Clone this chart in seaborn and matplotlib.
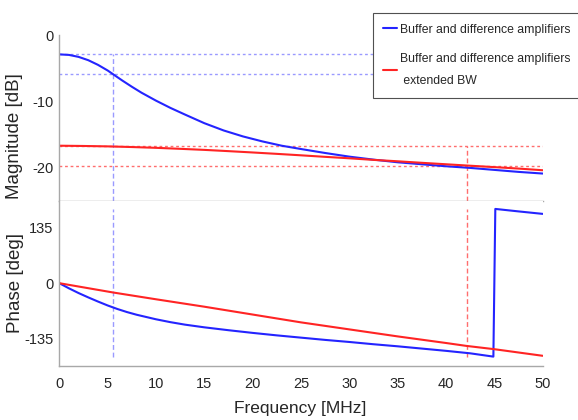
import numpy as np
import seaborn as sns
import matplotlib.pyplot as plt

# frequency grid (MHz) and values
freq_mag_buffer = [0, 1, 2, 3, 4, 5, 5.6, 6.5, 7.5, 8.5, 10, 11.5, 13, 15, 17, 19, 21,
                   23, 25, 27.5, 30, 32.5, 35, 37.5, 40, 42.5, 45, 47.5, 50]
mag_buffer = [-2.92, -3.0, -3.3, -3.8, -4.5, -5.35, -5.95, -6.85, -7.8, -8.7, -9.9,
              -11.0, -12.0, -13.3, -14.4, -15.3, -16.05, -16.7, -17.2, -17.8, -18.35,
              -18.8, -19.2, -19.5, -19.8, -20.05, -20.35, -20.65, -20.9]
freq_mag_ext = [0, 2.5, 5, 7.5, 10, 12.5, 15, 17.5, 20, 22.5, 25, 27.5, 30, 32.5, 35,
                37.5, 40, 42.5, 45, 47.5, 50]
mag_ext = [-16.7, -16.74, -16.8, -16.9, -17.02, -17.17, -17.33, -17.52, -17.72,
           -17.93, -18.15, -18.38, -18.6, -18.84, -19.05, -19.28, -19.5, -19.72,
           -19.93, -20.15, -20.4]

freq_ph_buffer = [0, 1, 2, 3, 4, 5, 6, 7, 8, 9, 10, 11.5, 13, 15, 17.5, 20, 22.5, 25,
                  27.5, 30, 32.5, 35, 37.5, 40, 42.5, 44.9, 45.1, 47.5, 50]
ph_buffer = [0, -12.5, -24, -34.5, -44.5, -54, -62.5, -70, -76.5, -82, -87.5, -94.5,
             -100.5, -107, -114, -120.5, -126.5, -132, -137.5, -142.5, -148, -153,
             -158.5, -164, -170, -178, 180, 174, 168]
freq_ph_ext = [0, 5.6, 10, 15, 20, 25, 30, 35, 40, 42.1, 45, 50]
ph_ext = [0, -22.7, -39, -57, -76, -95, -112, -129, -145, -152, -160, -176]

# cutoff markers
bw_buffer = 5.6
bw_ext = 42.2
dc_buffer, cut_buffer = -2.92, -5.95
dc_ext, cut_ext = -16.7, -19.7

lab_buffer = 'Buffer and difference amplifiers'
lab_ext = 'Buffer and difference amplifiers\n extended BW'

sns.set_style('white')
plt.rcParams['font.family'] = ['Liberation Sans', 'DejaVu Sans']

blue = '#2424ff'
red = '#ff2424'
lblue = '#9a9aff'
lred = '#ff6e6e'
gray = '#a8a8a8'

fig = plt.figure(figsize=(5.78, 4.2), dpi=100)
ax1 = fig.add_axes([0.1026, 0.5221, 0.8363, 0.3945])
ax2 = fig.add_axes([0.1026, 0.1293, 0.8363, 0.3929])

# magnitude
ax1.hlines([dc_buffer, cut_buffer], 0, 50, colors=lblue, lw=1, linestyles=[(0, (2, 2))], zorder=1)
ax1.hlines([dc_ext, cut_ext], 0, 50, colors=lred, lw=1, linestyles=[(0, (2, 2))], zorder=1)
ax1.vlines(bw_buffer, -25, dc_buffer, colors=lblue, lw=1, linestyles=[(0, (3.5, 2))], zorder=1)
ax1.vlines(bw_ext, -25, dc_ext, colors=lred, lw=1, linestyles=[(0, (3.5, 2))], zorder=1)
sns.lineplot(x=freq_mag_buffer, y=mag_buffer, ax=ax1, color=blue, lw=1.5,
             label=lab_buffer, estimator=None)
sns.lineplot(x=freq_mag_ext, y=mag_ext, ax=ax1, color=red, lw=1.5,
             label=lab_ext, estimator=None)
ax1.set_xlim(0, 50)
ax1.set_ylim(-25, 0)
ax1.set_yticks([0, -10, -20])
ax1.set_yticklabels(['0', '-10', '-20'])
ax1.set_xticks(range(0, 51, 5))
ax1.set_xticklabels([])
ax1.set_ylabel('Magnitude [dB]', fontsize=13.5)
ax1.yaxis.set_label_coords(-0.075, 0.39)

# phase
ax2.vlines(bw_buffer, -180, 180, colors=lblue, lw=1, linestyles=[(0, (3.5, 2))], zorder=1)
ax2.vlines(bw_ext, -180, 180, colors=lred, lw=1, linestyles=[(0, (3.5, 2))], zorder=1)
sns.lineplot(x=freq_ph_buffer, y=ph_buffer, ax=ax2, color=blue, lw=1.5, estimator=None)
sns.lineplot(x=freq_ph_ext, y=ph_ext, ax=ax2, color=red, lw=1.5, estimator=None)
ax2.set_xlim(0, 50)
ax2.set_ylim(-200, 200)
ax2.set_yticks([135, 0, -135])
ax2.set_yticklabels(['135', '0', '-135'])
ax2.set_xticks(range(0, 51, 5))
ax2.set_ylabel('Phase [deg]', fontsize=13.5)
ax2.yaxis.set_label_coords(-0.072, 0.5)
ax2.set_xlabel('Frequency [MHz]', fontsize=12.5)
ax2.xaxis.set_label_coords(0.498, -0.215)

for ax in (ax1, ax2):
    for s in ['top', 'right']:
        ax.spines[s].set_visible(False)
    for s in ['left', 'bottom']:
        ax.spines[s].set_color(gray)
        ax.spines[s].set_linewidth(1)
    ax.tick_params(direction='in', length=3, width=1, color=gray, labelsize=10.5,
                   labelcolor='#262626')
    ax.tick_params(axis='y', pad=4)
    ax.tick_params(axis='x', pad=8)

leg = ax1.legend(loc='upper left', bbox_to_anchor=(0.645, 0.969), bbox_transform=fig.transFigure,
                 fontsize=8.8, frameon=True, fancybox=False, edgecolor='#505050', framealpha=1,
                 handlelength=1.1, handletextpad=0.25, borderpad=0.87, labelspacing=1.44,
                 borderaxespad=0)
leg.get_frame().set_linewidth(0.8)
leg.get_texts()[1].set_linespacing(2.1)

fig.savefig('out.png', dpi=100)
